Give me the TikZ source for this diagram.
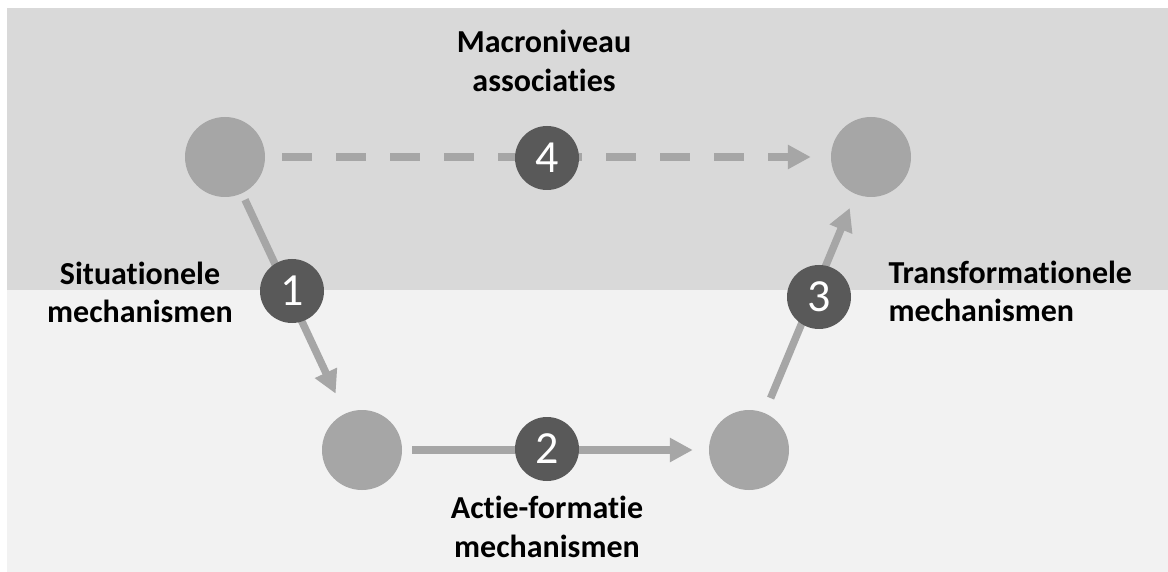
\documentclass[tikz,border=0pt]{standalone}
\usepackage{fontspec}
\setmainfont{Carlito}[RawFeature=-liga]
\usetikzlibrary{arrows.meta}

\definecolor{bandtop}{HTML}{D9D9D9}
\definecolor{bandlow}{HTML}{F2F2F2}
\definecolor{dotgray}{HTML}{A6A6A6}
\definecolor{numgray}{HTML}{595959}

\tikzset{
  state/.style={circle, fill=dotgray, minimum size=80pt, inner sep=0pt},
  badge/.style={circle, fill=numgray, minimum size=64pt, inner sep=0pt,
    text=white, font=\fontsize{46}{46}\selectfont},
  flow/.style={draw=dotgray, line width=7.5pt,
    -{Triangle[length=23pt,width=23pt]}},
  caption/.style={font=\bfseries\fontsize{32}{39}\selectfont, align=center, anchor=base}
}

\begin{document}
\begin{tikzpicture}[x=1pt,y=-1pt]
  \useasboundingbox (0,0) rectangle (1168,572);
  % background bands
  \fill[white] (0,0) rectangle (1168,572);
  \fill[bandtop] (7,8) rectangle (1168,290);
  \fill[bandlow] (7,290) rectangle (1168,572);

  % states
  \node[state] (macroA) at (225,157) {};
  \node[state] (macroB) at (871,157) {};
  \node[state] (microA) at (362,450) {};
  \node[state] (microB) at (749,450) {};

  % mechanisms
  \draw[flow, dashed, dash pattern=on 30pt off 24pt, shorten <=17pt, shorten >=20pt]
    (macroA) -- (macroB);
  \draw[flow, shorten <=7pt, shorten >=22pt] (macroA) -- (microA);
  \draw[flow, shorten <=10pt, shorten >=16pt] (microA) -- (microB);
  \draw[flow, shorten <=16pt, shorten >=15pt] (microB) -- (macroB);

  % numbered badges
  \node[badge] (n4) at (547,158) {4};
  \node[badge] (n1) at (292,291) {1};
  \node[badge] (n2) at (547,449) {2};
  \node[badge] (n3) at (819,297) {3};

  % labels (anchored at the baseline of the second line)
  \node[caption] (lmacro) at (544,92) {Macroniveau\\associaties};
  \node[caption] (lsit) at (140,323) {Situationele\\mechanismen};
  \node[caption, align=left, anchor=base west] (ltrans) at (885,322) {Transformationele\\mechanismen};
  \node[caption] (lact) at (547,557) {Actie-formatie\\mechanismen};
\end{tikzpicture}
\end{document}
